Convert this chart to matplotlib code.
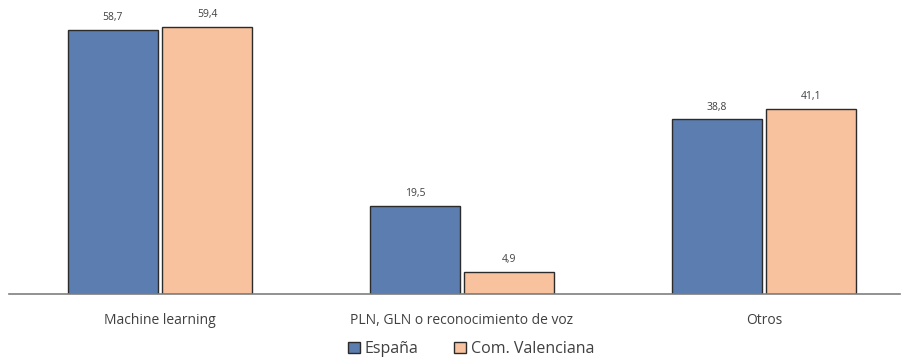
import numpy as np
import matplotlib.pyplot as plt

categories = ["Machine learning", "PLN, GLN o reconocimiento de voz", "Otros"]
espana = [58.7, 19.5, 38.8]
valenciana = [59.4, 4.9, 41.1]
series_names = ["España", "Com. Valenciana"]

plt.rcParams['font.family'] = ['Open Sans', 'DejaVu Sans']

fig = plt.figure(figsize=(9.02, 3.6), dpi=100)
ax = fig.add_axes([9 / 902, 66 / 360, 891 / 902, 294 / 360])

x = np.arange(len(categories))
w = 0.298
off = 0.156
c_es = "#5B7DB0"
c_cv = "#F7C29D"

b1 = ax.bar(x - off, espana, w, color=c_es, edgecolor="#2b2b2b", lw=1, label=series_names[0])
b2 = ax.bar(x + off, valenciana, w, color=c_cv, edgecolor="#2b2b2b", lw=1, label=series_names[1])

for bars, vals in ((b1, espana), (b2, valenciana)):
    for b, v in zip(bars, vals):
        ax.text(b.get_x() + b.get_width() / 2, v + 1.5, f"{v:.1f}".replace(".", ","),
                ha="center", va="bottom", fontsize=7.5, color="#404040")

ax.set_xlim(-0.5, 2.45)
ax.set_ylim(0, 65.33)
ax.set_yticks([])
ax.set_xticks(x)
ax.set_xticklabels(categories, fontsize=10, color="#404040")
ax.tick_params(axis="x", length=0, pad=14)
for s in ("top", "right", "left"):
    ax.spines[s].set_visible(False)
ax.spines["bottom"].set_color("#7f7f7f")
ax.spines["bottom"].set_linewidth(1.2)

fig.legend(loc="center", bbox_to_anchor=(471 / 902, 1 - 349 / 360), ncols=2, frameon=False,
           fontsize=11.5, handlelength=0.75, handleheight=0.75, handletextpad=0.3, columnspacing=2.2,
           labelcolor="#404040")

plt.savefig("out.png", dpi=100)
